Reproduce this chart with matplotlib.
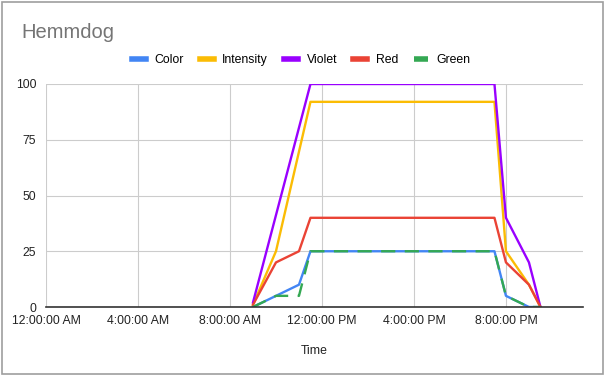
import matplotlib.pyplot as plt
from matplotlib.patches import Rectangle

# hours since midnight
hours = [9, 10, 11, 11.5, 19.5, 20, 21, 21.5]
color_vals = [0, 5, 10, 25, 25, 5, 0, 0]
red_vals = [1, 20, 25, 40, 40, 20, 10, 0]
green_vals = [0, 5, 5, 25, 25, 5, 0, 0]

intensity_hours = [9, 10, 11.5, 19.5, 20, 21, 21.5]
intensity_vals = [1, 25, 92, 92, 25, 10, 0]

violet_hours = [9, 11.5, 19.5, 20, 21, 21.5]
violet_vals = [2, 100, 100, 40, 20, 0]

tick_hours = [0, 4, 8, 12, 16, 20]
tick_labels = ['12:00:00 AM', '4:00:00 AM', '8:00:00 AM',
               '12:00:00 PM', '4:00:00 PM', '8:00:00 PM']
y_ticks = [0, 25, 50, 75, 100]

plt.rcParams['font.family'] = ['Liberation Sans', 'DejaVu Sans']

W, H = 606, 375
fig = plt.figure(figsize=(W / 100, H / 100), dpi=100)
ax = fig.add_axes([46 / W, 1 - 307 / H, (583 - 46) / W, (307 - 84) / H])

lw = 1.7
ax.plot(hours, color_vals, color='#4285f4', lw=lw, label='Color', zorder=3)
ax.plot(intensity_hours, intensity_vals, color='#fbbc04', lw=lw, label='Intensity', zorder=3)
ax.plot(violet_hours, violet_vals, color='#9900ff', lw=lw, label='Violet', zorder=3)
ax.plot(hours, red_vals, color='#ea4335', lw=lw, label='Red', zorder=3)
ax.plot(hours, green_vals, color='#34a853', lw=lw, dashes=(6, 4), label='Green', zorder=4)

ax.set_xlim(0, 23.35)
ax.set_ylim(0, 100)
ax.set_xticks(tick_hours)
ax.set_xticklabels(tick_labels)
ax.set_yticks(y_ticks)
ax.grid(True, color='#cccccc', lw=0.8)
ax.set_axisbelow(True)
ax.tick_params(length=0, labelsize=8.8, colors='#222222', pad=6)
ax.tick_params(axis='y', pad=7)
for s in ['top', 'right', 'left']:
    ax.spines[s].set_visible(False)
ax.spines['bottom'].set_color('#333333')
ax.spines['bottom'].set_linewidth(1.2)
ax.spines['bottom'].set_zorder(5)

ax.set_xlabel('Time', fontsize=8.8, color='#222222', labelpad=13)

fig.text(21 / W, 1 - 33 / H, 'Hemmdog', fontsize=14.5, color='#757575',
         va='center', ha='left')

leg = fig.legend(loc='center', bbox_to_anchor=(0.497, 1 - 60 / H), ncol=5,
                 frameon=False, fontsize=8.8, handlelength=1.15,
                 handletextpad=0.7, columnspacing=1.3)
for line in leg.get_lines():
    line.set_linewidth(4)

fig.add_artist(Rectangle((2 / W, 1 / H), 601 / W, 372 / H, transform=fig.transFigure,
                         fill=False, edgecolor='#9e9e9e', lw=1.2))

fig.savefig('out.png', dpi=100)
